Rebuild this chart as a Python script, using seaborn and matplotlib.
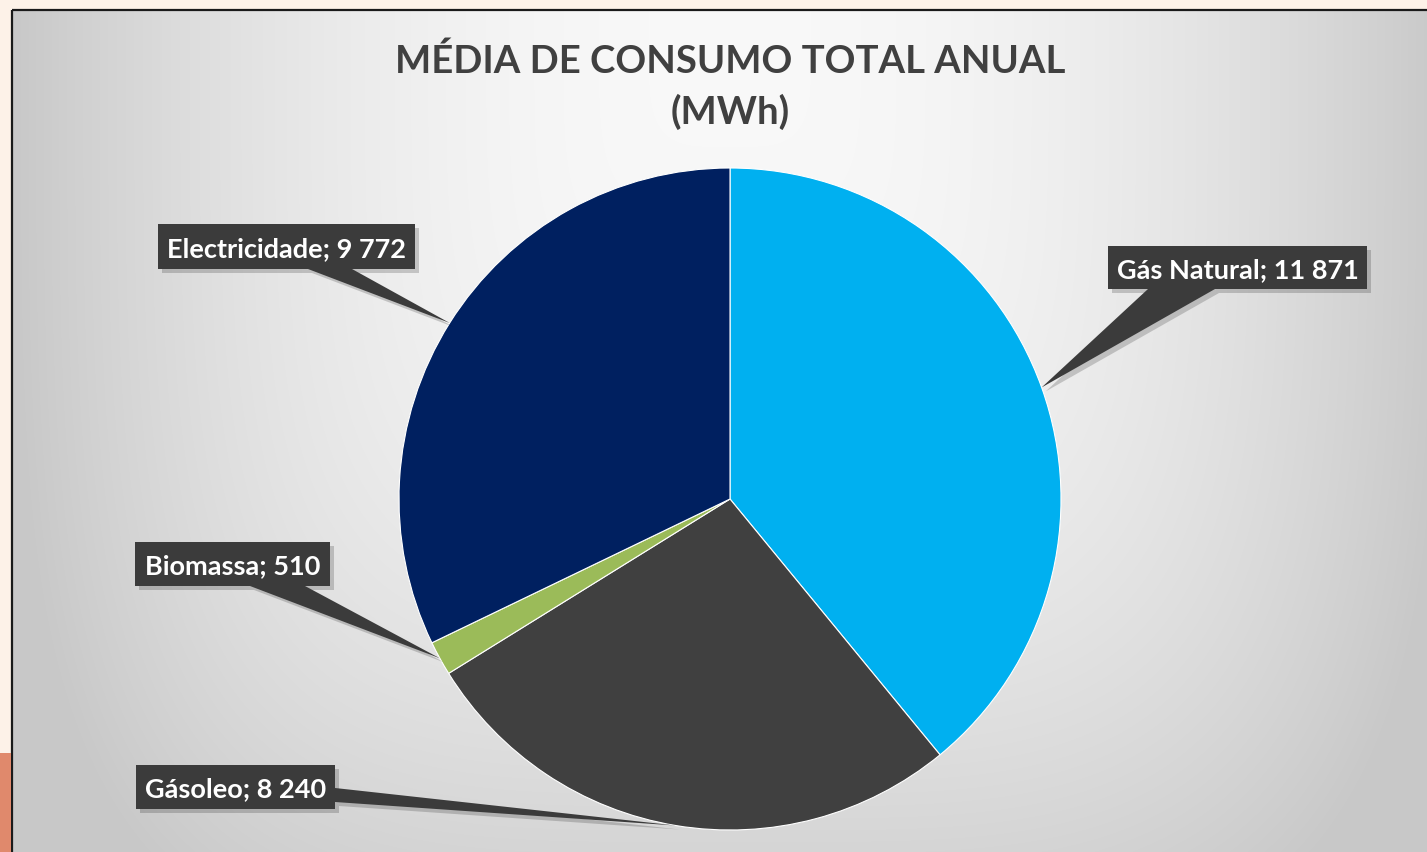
import numpy as np
import matplotlib
matplotlib.use("Agg")
import matplotlib.pyplot as plt
import seaborn as sns
from matplotlib.patches import Rectangle, Polygon

# ---- data ----
categories = ["Gás Natural", "Gásoleo", "Biomassa", "Electricidade"]
values = [11871, 8240, 510, 9772]
value_labels = ["11 871", "8 240", "510", "9 772"]
colors = ["#00B0F0", "#404040", "#9BBB59", "#002060"]
title_lines = ["MÉDIA DE CONSUMO TOTAL ANUAL", "(MWh)"]

sns.set_theme(style="white")
plt.rcParams["font.family"] = ["Lato", "DejaVu Sans"]

W, H = 1427, 853
fig = plt.figure(figsize=(W / 100, H / 100), dpi=100, facecolor="#FDF2E8")
ax = fig.add_axes([0, 0, 1, 1])

def Y(y):
    return H - y

# background gradient of the chart area (image coords 12..1427, 11..853)
gx0, gy0 = 12, 11
xs = np.arange(gx0, W) + 0.5
ys = np.arange(gy0, H) + 0.5
X, YY = np.meshgrid(xs, ys)
dx = np.abs(X - 730) / 715
dy = np.abs(YY - 40) / 950
t = (dx ** 4 + dy ** 4) ** 0.25
b = np.clip(0.975 - 0.19 * t ** 2, 0.785, 1)
img = np.dstack([b, b, b])
ax.imshow(img, extent=(gx0, W, Y(H), Y(gy0)), origin="upper", zorder=0, aspect="auto")

# borders / decorations
ax.plot([gx0, gx0], [Y(gy0), Y(H)], color="#1a1a1a", lw=1.6, zorder=1, solid_capstyle="butt")
ax.plot([gx0, W], [Y(gy0), Y(gy0)], color="#1a1a1a", lw=1.6, zorder=1, solid_capstyle="butt")
ax.add_patch(Rectangle((0, Y(H)), 11, H - 754, facecolor="#E0896C", edgecolor="none", zorder=1))

# pie
cx, cy, R = 730, 500, 331
wedges, _ = ax.pie(values, colors=colors, startangle=90, counterclock=False,
                   center=(cx, Y(cy)), radius=R,
                   wedgeprops=dict(edgecolor="white", linewidth=0.8, zorder=2),
                   frame=True)

# callout boxes (image coords: x0, y0, x1, y1) and wedge bases
boxes = {
    "Gás Natural": ((1108, 247, 1367, 290), [(1148, 290), (1215, 290)]),
    "Gásoleo": ((136, 766, 335, 810), [(335, 789), (335, 803)]),
    "Biomassa": ((135, 543, 330, 587), [(250, 587), (305, 587)]),
    "Electricidade": ((158, 225, 415, 270), [(308, 270), (352, 270)]),
}

box_color = "#3B3B3B"
for w, cat, vl in zip(wedges, categories, value_labels):
    mid = np.deg2rad((w.theta1 + w.theta2) / 2)
    tipx = w.center[0] + w.r * np.cos(mid)
    tipy = w.center[1] + w.r * np.sin(mid)
    (x0, y0, x1, y1), base = boxes[cat]
    pts = [(bx, Y(by)) for bx, by in base] + [(tipx, tipy)]
    # shadow
    sh = 4
    ax.add_patch(Polygon([(px + sh, py - sh) for px, py in pts], closed=True,
                         facecolor="#000000", alpha=0.18, edgecolor="none", zorder=3))
    ax.add_patch(Rectangle((x0 + sh, Y(y1) - sh), x1 - x0, y1 - y0,
                           facecolor="#000000", alpha=0.18, edgecolor="none", zorder=3))
    ax.add_patch(Polygon(pts, closed=True, facecolor=box_color, edgecolor="none", zorder=4))
    ax.add_patch(Rectangle((x0, Y(y1)), x1 - x0, y1 - y0,
                           facecolor=box_color, edgecolor="none", zorder=4))
    ax.text((x0 + x1) / 2, Y((y0 + y1) / 2 + 9.5), f"{cat}; {vl}", color="white",
            fontsize=19.5, fontweight="bold", ha="center", va="baseline", zorder=5)

# title
ax.text(730, Y(73), title_lines[0], color="#404040", fontsize=27.5, fontweight="bold",
        ha="center", va="baseline", zorder=5)
ax.text(730, Y(124), title_lines[1], color="#404040", fontsize=27.5, fontweight="bold",
        ha="center", va="baseline", zorder=5)

ax.set_xlim(0, W)
ax.set_ylim(0, H)
ax.set_aspect("auto")
ax.axis("off")

fig.savefig("out.png", dpi=100, facecolor=fig.get_facecolor())
